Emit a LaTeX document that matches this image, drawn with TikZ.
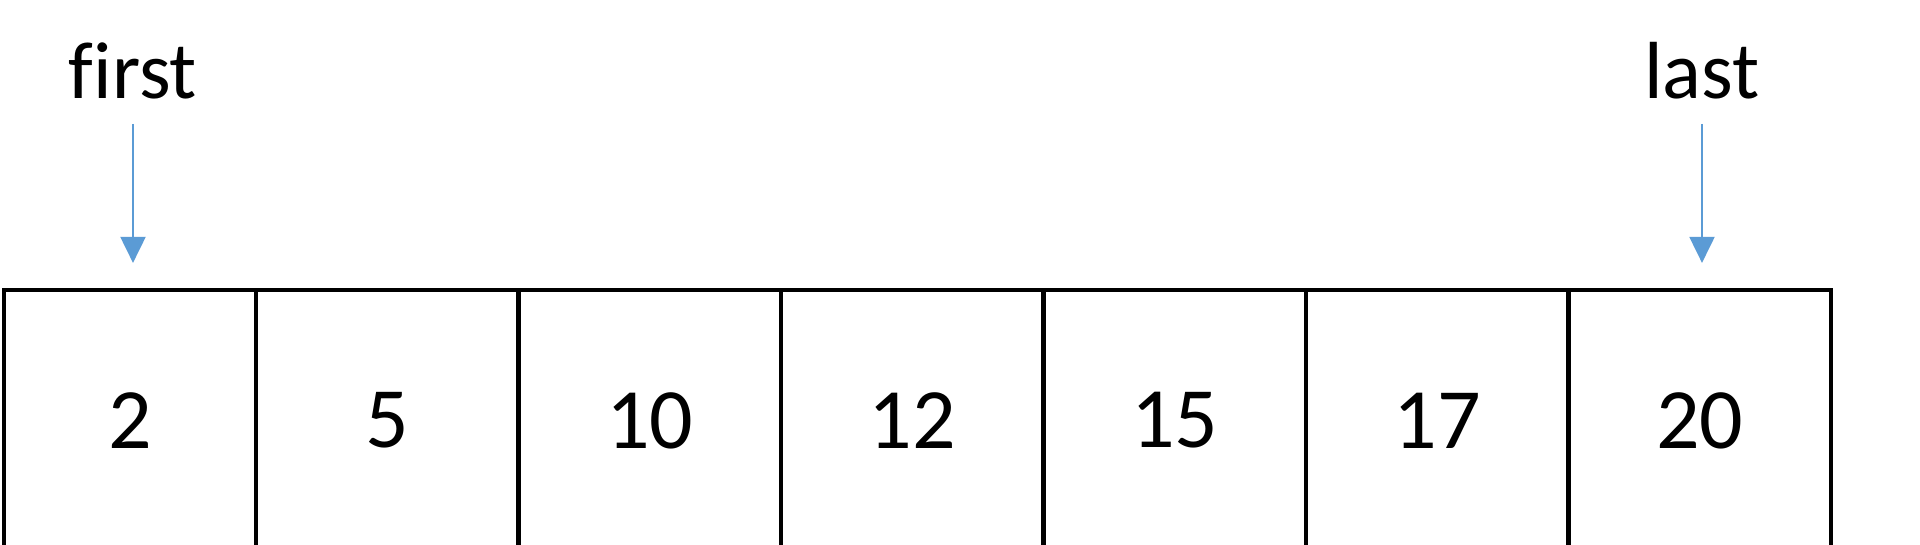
\documentclass[tikz,border=0pt]{standalone}
\usepackage{fontspec}
\setmainfont[Ligatures=NoCommon]{Carlito}
\usetikzlibrary{arrows.meta}
\definecolor{ptrblue}{HTML}{5B9BD5}
\begin{document}
\begin{tikzpicture}[x=1pt,y=1pt,
  cell/.style={draw=black,line width=4.2pt,minimum width=262.5pt,minimum height=261pt,inner sep=0pt,
    font=\fontsize{86}{100}\selectfont},
  lbl/.style={inner sep=0pt,anchor=base,font=\fontsize{81}{96}\selectfont},
  ptr/.style={draw=ptrblue,line width=2pt,-{Triangle[width=25pt,length=26pt]},shorten <=24pt,shorten >=25pt}]
\useasboundingbox (0,0) rectangle (1920,544);
\fill[white] (0,0) rectangle (1920,544);
\node[cell,minimum width=252pt] (c1) at (130,123.5) {2};
\foreach \v [count=\i from 2] in {5,10,12,15,17,20}{
  \node[cell] (c\i) at ({256+262.5*(\i-1.5)},123.5) {\v};
}
\node[lbl] (lfirst) at (133,445) {first};
\node[lbl] (llast) at (1702,445) {last};
\draw[ptr] (lfirst.south) -- (lfirst.south |- c1.north);
\draw[ptr] (llast.south) -- (llast.south |- c7.north);
\end{tikzpicture}
\end{document}
